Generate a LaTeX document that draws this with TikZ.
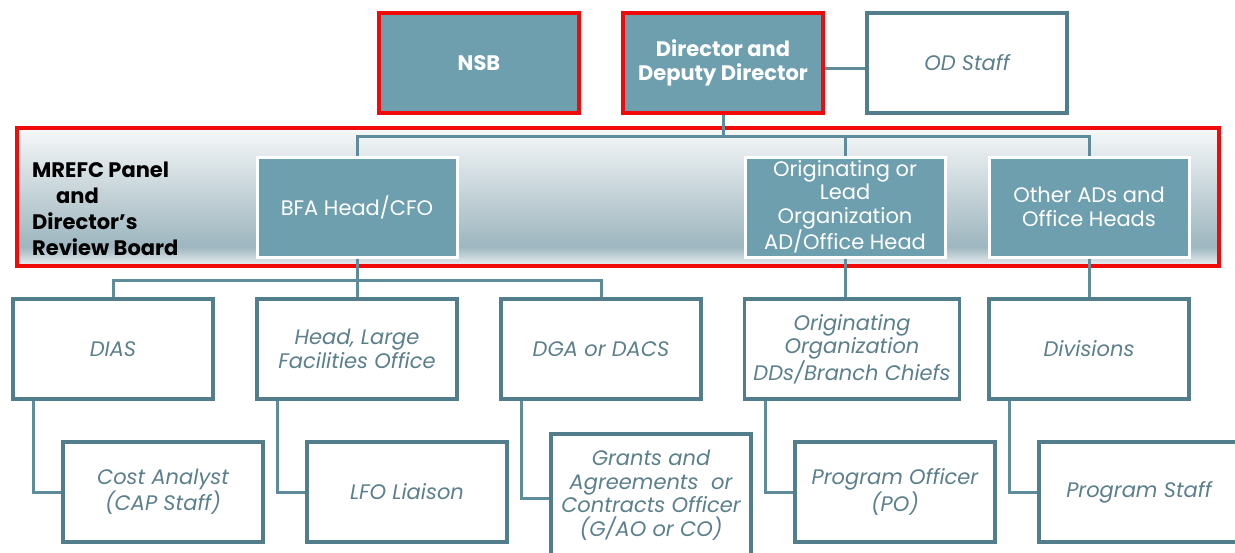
\documentclass[tikz,border=0pt]{standalone}
\usepackage{fontspec}
\setmainfont{Poppins}
\definecolor{tealc}{HTML}{6E9FAF}
\definecolor{redc}{HTML}{F00A0A}
\definecolor{borderc}{HTML}{527E8C}
\definecolor{connc}{HTML}{5E8C9A}
\definecolor{textc}{HTML}{5B7F8B}
\definecolor{ptop}{HTML}{F6F8F9}
\definecolor{pmid}{HTML}{C2D1D6}
\definecolor{pdark}{HTML}{9DB6BF}
\definecolor{pbot}{HTML}{E2E9EC}
\pgfdeclareverticalshading{panelsh}{100bp}{color(0bp)=(pbot); color(26bp)=(pbot); color(32bp)=(pdark); color(50bp)=(pmid); color(75bp)=(ptop); color(100bp)=(ptop)}
\tikzset{
 tealbox/.style={fill=tealc, draw=white, line width=3pt, text=white, align=center,
   minimum width=200pt, minimum height=100pt, inner sep=0pt,
   font=\fontsize{21}{23.5}\selectfont},
 redbox/.style={tealbox, draw=redc, line width=3.5pt, font=\fontsize{21}{24}\selectfont\bfseries},
 wbox/.style={fill=white, draw=borderc, line width=3.5pt, text=textc, align=center,
   minimum width=200pt, minimum height=100pt, inner sep=0pt,
   font=\fontsize{21}{23.5}\selectfont\itshape},
 panelbox/.style={draw=redc, line width=3.5pt, shading=panelsh, minimum width=1202pt, minimum height=138pt, inner sep=0pt},
 paneltext/.style={align=left, text=black, font=\fontsize{21}{26}\selectfont\bfseries, inner sep=0pt},
 conn/.style={draw=connc, line width=3pt},
}
\begin{document}
\begin{tikzpicture}[x=1pt,y=-1pt]
\useasboundingbox (0,0) rectangle (1235,552);
\clip (0,0) rectangle (1235,552);
\fill[white] (0,0) rectangle (1235,552);
% panel
\node[panelbox] (panel) at (618,197) {};
% top row
\node[redbox] (nsb) at (479,63) {NSB};
\node[redbox] (dir) at (723,63) {Director and\\Deputy Director};
\node[wbox] (ods) at (967,63) {OD Staff};
% coordinates for buses
\coordinate (b1) at (357,136);
\coordinate (b2) at (357,280);
% connectors
\draw[conn] ([yshift=-5pt]dir.east) -- ([yshift=-5pt]ods.west);
\draw[conn] (dir.south) -- (dir.south |- b1);
\coordinate (bfatop) at (357,157);
\coordinate (origtop) at (845,157);
\coordinate (othtop) at (1089,157);
\draw[conn] (bfatop) -- (b1) -- (othtop |- b1) -- (othtop);
\draw[conn] (origtop) -- (origtop |- b1);
% panel label
\node[paneltext, anchor=west] (plabel) at (32,209) {MREFC Panel\\\hspace*{24pt}and\\Director’s\\Review Board};
% panel boxes
\node[tealbox] (bfa) at (357,207) {BFA Head/CFO};
\node[tealbox] (orig) at (845,207) {Originating or\\Lead\\Organization\\AD/Office Head};
\node[tealbox] (oth) at (1089,207) {Other ADs and\\Office Heads};
% second row
\node[wbox] (dias) at (113,349) {DIAS};
\node[wbox] (lfo) at (357,349) {Head, Large\\Facilities Office};
\node[wbox] (dga) at (601,349) {DGA or DACS};
\node[wbox, minimum width=215pt] (odd) at (852,349) {Originating\\Organization\\DDs/Branch Chiefs};
\node[wbox] (div) at (1089,349) {Divisions};
\draw[conn] (bfa.south) -- (lfo.north);
\draw[conn] (dias.north) -- (dias.north |- b2) -- (dga.north |- b2) -- (dga.north);
\draw[conn] (orig.south) -- (orig.south |- odd.north);
\draw[conn] (oth.south) -- (div.north);
% third row
\node[wbox] (cost) at (163,492) {Cost Analyst\\(CAP Staff)};
\node[wbox] (liai) at (407,492) {LFO Liaison};
\node[wbox, minimum height=122pt] (gao) at (651,495) {Grants and\\Agreements~ or\\Contracts Officer\\(G/AO or CO)};
\node[wbox] (po) at (895,492) {Program Officer\\(PO)};
\node[wbox] (pst) at (1139,492) {Program Staff};
\draw[conn] ([xshift=-80pt]dias.south) |- (cost.west);
\draw[conn] ([xshift=-80pt]lfo.south) |- (liai.west);
\draw[conn] ([xshift=-80pt]dga.south) |- ([yshift=-3pt]gao.west);
\draw[conn] ([xshift=-87pt]odd.south) |- (po.west);
\draw[conn] ([xshift=-80pt]div.south) |- (pst.west);
\end{tikzpicture}
\end{document}
